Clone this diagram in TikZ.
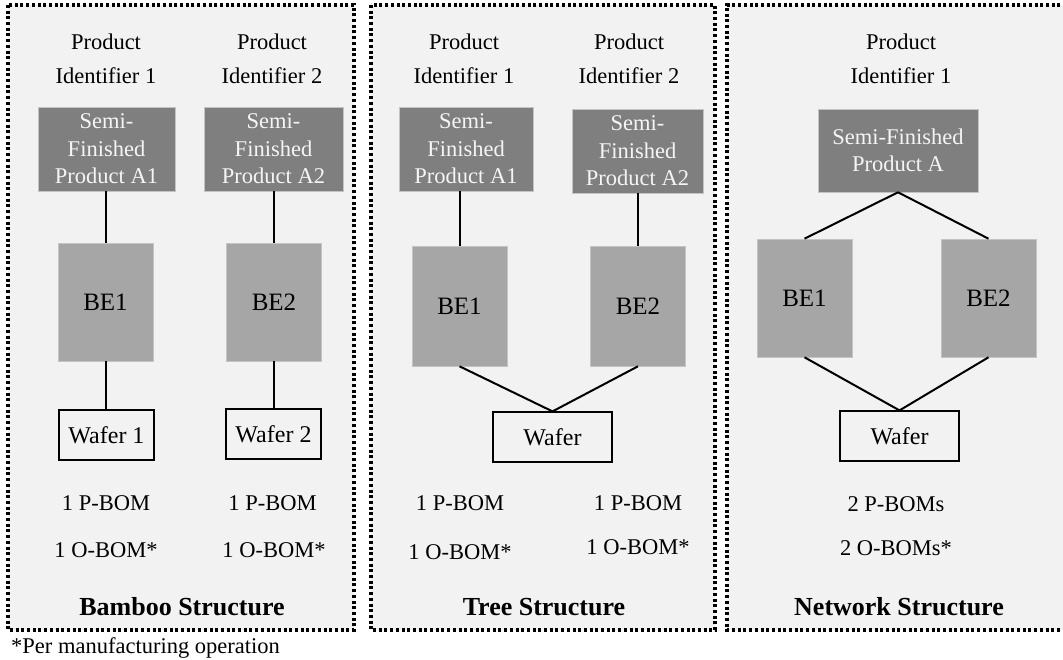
\documentclass[tikz,border=0pt]{standalone}
\usepackage{fontspec}
\setmainfont{Liberation Serif}
\definecolor{panelbg}{HTML}{F2F2F2}
\definecolor{sfgray}{HTML}{7F7F7F}
\definecolor{begray}{HTML}{A6A6A6}
\definecolor{edgegray}{HTML}{C4C4C4}
\definecolor{sftext}{HTML}{F5F5F5}
\tikzset{
  panel/.style={fill=panelbg, draw=black, line width=3.2pt, dash pattern=on 3pt off 2.7pt},
  lbl/.style={inner sep=0pt, align=center, font=\fontsize{22.5}{34}\selectfont},
  sfbox/.style={rectangle, fill=sfgray, draw=edgegray, line width=0.6pt, inner sep=0pt,
    text=sftext, align=center, font=\fontsize{22.5}{27.5}\selectfont},
  bebox/.style={rectangle, fill=begray, draw=edgegray, line width=0.6pt, inner sep=0pt,
    minimum width=95pt, minimum height=118pt, font=\fontsize{25}{30}\selectfont},
  waferbox/.style={rectangle, fill=panelbg, draw=black, line width=1.2pt, inner sep=0pt,
    minimum height=50pt, font=\fontsize{24}{30}\selectfont},
  title/.style={inner sep=0pt, font=\fontsize{26}{30}\selectfont\bfseries},
  link/.style={draw=black, line width=2pt}
}
\begin{document}
\begin{tikzpicture}[x=1pt,y=-1pt]
\useasboundingbox (0,0) rectangle (1063,660);
\fill[white] (0,0) rectangle (1063,660);

% panels
\draw[panel] (8,5) rectangle (354,630);
\draw[panel] (371,5) rectangle (715,630);
\fill[panelbg] (727,5) rectangle (1063,630);
\draw[panel, fill=none] (1066,5) -- (727,5) -- (727,630) -- (1066,630);

% ---------- Bamboo ----------
\node[lbl] (b-id1) at (106,59) {Product\\Identifier 1};
\node[lbl] (b-id2) at (272,59) {Product\\Identifier 2};
\node[sfbox, minimum width=137pt, minimum height=84pt] (b-sf1) at (106.5,149) {Semi-\\Finished\\Product A1};
\node[sfbox, minimum width=139pt, minimum height=84pt] (b-sf2) at (273.5,149) {Semi-\\Finished\\Product A2};
\node[bebox] (b-be1) at (105.5,302) {BE1};
\node[bebox] (b-be2) at (274,302) {BE2};
\node[waferbox, minimum width=95pt] (b-w1) at (106.5,435) {Wafer 1};
\node[waferbox, minimum width=95pt] (b-w2) at (273.5,434) {Wafer 2};
\draw[link] (b-be1.north) -- (b-be1.north |- b-sf1.south);
\draw[link] (b-be2.north) -- (b-be2.north |- b-sf2.south);
\draw[link] (b-be1.south) -- (b-be1.south |- b-w1.north);
\draw[link] (b-be2.south) -- (b-be2.south |- b-w2.north);
\node[lbl] (b-p1) at (106,503) {1 P-BOM};
\node[lbl] (b-p2) at (272.5,503) {1 P-BOM};
\node[lbl] (b-o1) at (106,550) {1 O-BOM*};
\node[lbl] (b-o2) at (274,550) {1 O-BOM*};
\node[title] (b-title) at (182,607) {Bamboo Structure};

% ---------- Tree ----------
\node[lbl] (t-id1) at (464,59) {Product\\Identifier 1};
\node[lbl] (t-id2) at (629,59) {Product\\Identifier 2};
\node[sfbox, minimum width=134pt, minimum height=84pt] (t-sf1) at (466,149) {Semi-\\Finished\\Product A1};
\node[sfbox, minimum width=131pt, minimum height=84pt] (t-sf2) at (637.5,151) {Semi-\\Finished\\Product A2};
\node[bebox, minimum height=120pt] (t-be1) at (459.5,306) {BE1};
\node[bebox, minimum height=120pt] (t-be2) at (638,306) {BE2};
\node[waferbox, minimum width=119pt] (t-w) at (552.5,437) {Wafer};
\draw[link] (t-be1.north) -- (t-be1.north |- t-sf1.south);
\draw[link] (t-be2.north) -- (t-be2.north |- t-sf2.south);
\draw[link] (t-be1.south) -- (t-w.north);
\draw[link] (t-be2.south) -- (t-w.north);
\node[lbl] (t-p1) at (460,503) {1 P-BOM};
\node[lbl] (t-p2) at (638,503) {1 P-BOM};
\node[lbl] (t-o1) at (460,552) {1 O-BOM*};
\node[lbl] (t-o2) at (638,547) {1 O-BOM*};
\node[title] (t-title) at (544,607) {Tree Structure};

% ---------- Network ----------
\node[lbl] (n-id1) at (901,59) {Product\\Identifier 1};
\node[sfbox, minimum width=160pt, minimum height=83pt] (n-sf) at (898,150.5) {Semi-Finished\\Product A};
\node[bebox] (n-be1) at (804.5,298) {BE1};
\node[bebox] (n-be2) at (988.5,298) {BE2};
\node[waferbox, minimum width=119pt] (n-w) at (899.5,436) {Wafer};
\draw[link] (n-sf.south) -- (n-be1.north);
\draw[link] (n-sf.south) -- (n-be2.north);
\draw[link] (n-be1.south) -- (n-w.north);
\draw[link] (n-be2.south) -- (n-w.north);
\node[lbl] (n-p) at (896,504) {2 P-BOMs};
\node[lbl] (n-o) at (896,548) {2 O-BOMs*};
\node[title] (n-title) at (899,607) {Network Structure};

% footnote
\node[lbl, anchor=west] (foot) at (11,648) {*Per manufacturing operation};
\end{tikzpicture}
\end{document}
